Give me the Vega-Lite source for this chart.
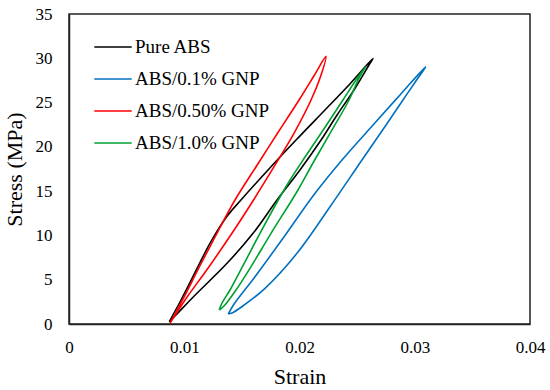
{
  "$schema": "https://vega.github.io/schema/vega-lite/v6.json",
  "width": 461,
  "height": 310,
  "autosize": "none",
  "padding": {"left": 69, "top": 14, "right": 20, "bottom": 66},
  "background": "white",
  "config": {
    "font": "Liberation Serif",
    "axis": {"labelFont": "Liberation Serif", "titleFont": "Liberation Serif"},
    "legend": {"labelFont": "Liberation Serif", "titleFont": "Liberation Serif"},
    "view": {"stroke": "#222222", "strokeWidth": 1.5}
  },
  "data": {
    "values": [
      {"s": "Pure ABS", "i": 1, "x": 0.0087, "y": 0.26},
      {"s": "Pure ABS", "i": 2, "x": 0.00972, "y": 2.71},
      {"s": "Pure ABS", "i": 3, "x": 0.01119, "y": 6.47},
      {"s": "Pure ABS", "i": 4, "x": 0.01223, "y": 9.11},
      {"s": "Pure ABS", "i": 5, "x": 0.01368, "y": 12.11},
      {"s": "Pure ABS", "i": 6, "x": 0.01492, "y": 14.0},
      {"s": "Pure ABS", "i": 7, "x": 0.01727, "y": 17.39},
      {"s": "Pure ABS", "i": 8, "x": 0.0197, "y": 20.77},
      {"s": "Pure ABS", "i": 9, "x": 0.02221, "y": 24.16},
      {"s": "Pure ABS", "i": 10, "x": 0.02429, "y": 26.98},
      {"s": "Pure ABS", "i": 11, "x": 0.02638, "y": 29.98},
      {"s": "Pure ABS", "i": 12, "x": 0.02603, "y": 29.24},
      {"s": "Pure ABS", "i": 13, "x": 0.02473, "y": 26.42},
      {"s": "Pure ABS", "i": 14, "x": 0.02326, "y": 23.6},
      {"s": "Pure ABS", "i": 15, "x": 0.02187, "y": 20.77},
      {"s": "Pure ABS", "i": 16, "x": 0.02004, "y": 17.39},
      {"s": "Pure ABS", "i": 17, "x": 0.01805, "y": 14.0},
      {"s": "Pure ABS", "i": 18, "x": 0.01597, "y": 10.24},
      {"s": "Pure ABS", "i": 19, "x": 0.01371, "y": 6.85},
      {"s": "Pure ABS", "i": 20, "x": 0.0108, "y": 3.08},
      {"s": "Pure ABS", "i": 21, "x": 0.00928, "y": 1.02},
      {"s": "Pure ABS", "i": 22, "x": 0.0087, "y": 0.26},

      {"s": "ABS/0.1% GNP", "i": 1, "x": 0.01382, "y": 1.13},
      {"s": "ABS/0.1% GNP", "i": 2, "x": 0.01427, "y": 2.15},
      {"s": "ABS/0.1% GNP", "i": 3, "x": 0.01614, "y": 5.34},
      {"s": "ABS/0.1% GNP", "i": 4, "x": 0.01846, "y": 9.48},
      {"s": "ABS/0.1% GNP", "i": 5, "x": 0.02135, "y": 14.76},
      {"s": "ABS/0.1% GNP", "i": 6, "x": 0.02369, "y": 18.52},
      {"s": "ABS/0.1% GNP", "i": 7, "x": 0.02638, "y": 22.47},
      {"s": "ABS/0.1% GNP", "i": 8, "x": 0.02872, "y": 25.86},
      {"s": "ABS/0.1% GNP", "i": 9, "x": 0.03095, "y": 29.05},
      {"s": "ABS/0.1% GNP", "i": 10, "x": 0.03028, "y": 27.77},
      {"s": "ABS/0.1% GNP", "i": 11, "x": 0.02898, "y": 25.29},
      {"s": "ABS/0.1% GNP", "i": 12, "x": 0.02751, "y": 22.47},
      {"s": "ABS/0.1% GNP", "i": 13, "x": 0.02542, "y": 18.52},
      {"s": "ABS/0.1% GNP", "i": 14, "x": 0.02265, "y": 13.24},
      {"s": "ABS/0.1% GNP", "i": 15, "x": 0.01978, "y": 7.98},
      {"s": "ABS/0.1% GNP", "i": 16, "x": 0.01701, "y": 4.03},
      {"s": "ABS/0.1% GNP", "i": 17, "x": 0.01499, "y": 1.95},
      {"s": "ABS/0.1% GNP", "i": 18, "x": 0.01414, "y": 1.24},
      {"s": "ABS/0.1% GNP", "i": 19, "x": 0.01382, "y": 1.13},

      {"s": "ABS/0.50% GNP", "i": 1, "x": 0.00876, "y": 0.08},
      {"s": "ABS/0.50% GNP", "i": 2, "x": 0.00985, "y": 2.71},
      {"s": "ABS/0.50% GNP", "i": 3, "x": 0.01132, "y": 6.47},
      {"s": "ABS/0.50% GNP", "i": 4, "x": 0.01284, "y": 10.24},
      {"s": "ABS/0.50% GNP", "i": 5, "x": 0.0144, "y": 14.0},
      {"s": "ABS/0.50% GNP", "i": 6, "x": 0.01623, "y": 17.76},
      {"s": "ABS/0.50% GNP", "i": 7, "x": 0.01809, "y": 21.53},
      {"s": "ABS/0.50% GNP", "i": 8, "x": 0.01996, "y": 25.29},
      {"s": "ABS/0.50% GNP", "i": 9, "x": 0.0213, "y": 28.11},
      {"s": "ABS/0.50% GNP", "i": 10, "x": 0.0223, "y": 30.22},
      {"s": "ABS/0.50% GNP", "i": 11, "x": 0.02187, "y": 28.11},
      {"s": "ABS/0.50% GNP", "i": 12, "x": 0.021, "y": 25.29},
      {"s": "ABS/0.50% GNP", "i": 13, "x": 0.01952, "y": 21.53},
      {"s": "ABS/0.50% GNP", "i": 14, "x": 0.01779, "y": 17.76},
      {"s": "ABS/0.50% GNP", "i": 15, "x": 0.01601, "y": 14.0},
      {"s": "ABS/0.50% GNP", "i": 16, "x": 0.01414, "y": 10.24},
      {"s": "ABS/0.50% GNP", "i": 17, "x": 0.01215, "y": 6.47},
      {"s": "ABS/0.50% GNP", "i": 18, "x": 0.01007, "y": 2.71},
      {"s": "ABS/0.50% GNP", "i": 19, "x": 0.00876, "y": 0.08},

      {"s": "ABS/1.0% GNP", "i": 1, "x": 0.01304, "y": 1.58},
      {"s": "ABS/1.0% GNP", "i": 2, "x": 0.01328, "y": 2.37},
      {"s": "ABS/1.0% GNP", "i": 3, "x": 0.01397, "y": 3.84},
      {"s": "ABS/1.0% GNP", "i": 4, "x": 0.01505, "y": 6.47},
      {"s": "ABS/1.0% GNP", "i": 5, "x": 0.01657, "y": 10.24},
      {"s": "ABS/1.0% GNP", "i": 6, "x": 0.01816, "y": 14.0},
      {"s": "ABS/1.0% GNP", "i": 7, "x": 0.01918, "y": 16.26},
      {"s": "ABS/1.0% GNP", "i": 8, "x": 0.02048, "y": 18.85},
      {"s": "ABS/1.0% GNP", "i": 9, "x": 0.02187, "y": 21.53},
      {"s": "ABS/1.0% GNP", "i": 10, "x": 0.02377, "y": 25.29},
      {"s": "ABS/1.0% GNP", "i": 11, "x": 0.0249, "y": 27.55},
      {"s": "ABS/1.0% GNP", "i": 12, "x": 0.02574, "y": 29.05},
      {"s": "ABS/1.0% GNP", "i": 13, "x": 0.02516, "y": 27.77},
      {"s": "ABS/1.0% GNP", "i": 14, "x": 0.0243, "y": 25.29},
      {"s": "ABS/1.0% GNP", "i": 15, "x": 0.02265, "y": 21.53},
      {"s": "ABS/1.0% GNP", "i": 16, "x": 0.02117, "y": 18.18},
      {"s": "ABS/1.0% GNP", "i": 17, "x": 0.01987, "y": 15.13},
      {"s": "ABS/1.0% GNP", "i": 18, "x": 0.01753, "y": 10.24},
      {"s": "ABS/1.0% GNP", "i": 19, "x": 0.01579, "y": 6.47},
      {"s": "ABS/1.0% GNP", "i": 20, "x": 0.01449, "y": 3.84},
      {"s": "ABS/1.0% GNP", "i": 21, "x": 0.01345, "y": 2.03},
      {"s": "ABS/1.0% GNP", "i": 22, "x": 0.01304, "y": 1.58}
    ]
  },
  "mark": {"type": "line", "strokeWidth": 1.6, "interpolate": "catmull-rom"},
  "encoding": {
    "x": {
      "field": "x",
      "type": "quantitative",
      "scale": {"domain": [0, 0.04], "nice": false, "zero": false},
      "axis": {
        "title": "Strain",
        "values": [0, 0.01, 0.02, 0.03, 0.04],
        "format": ".2~f",
        "grid": false,
        "ticks": false,
        "tickSize": 0,
        "labelPadding": 15,
        "labelFont": "Liberation Serif",
        "labelFontSize": 17,
        "labelColor": "black",
        "labelFlush": false,
        "domainColor": "#222222",
        "domainWidth": 1.5,
        "titleFont": "Liberation Serif",
        "titleFontSize": 22,
        "titleFontWeight": "normal",
        "titleColor": "black",
        "titleBaseline": "alphabetic",
        "titleY": 59
      }
    },
    "y": {
      "field": "y",
      "type": "quantitative",
      "scale": {"domain": [0, 35], "nice": false},
      "axis": {
        "title": "Stress (MPa)",
        "values": [0, 5, 10, 15, 20, 25, 30, 35],
        "grid": false,
        "ticks": false,
        "tickSize": 0,
        "labelPadding": 17,
        "labelFont": "Liberation Serif",
        "labelFontSize": 17,
        "labelColor": "black",
        "labelFlush": false,
        "domainColor": "#222222",
        "domainWidth": 1.5,
        "titleFont": "Liberation Serif",
        "titleFontSize": 22,
        "titleFontWeight": "normal",
        "titleColor": "black",
        "titleBaseline": "alphabetic",
        "titleAlign": "center",
        "titleAngle": -90,
        "titleX": -48,
        "titleY": 155
      }
    },
    "color": {
      "field": "s",
      "type": "nominal",
      "scale": {
        "domain": ["Pure ABS", "ABS/0.1% GNP", "ABS/0.50% GNP", "ABS/1.0% GNP"],
        "range": ["#000000", "#0070C0", "#FF0000", "#00A030"]
      },
      "legend": {
        "orient": "none",
        "legendX": 24,
        "legendY": 13,
        "title": null,
        "symbolType": "stroke",
        "symbolSize": 1400,
        "symbolStrokeWidth": 1.6,
        "labelFont": "Liberation Serif",
        "labelFontSize": 19,
        "labelColor": "black",
        "labelOffset": 2,
        "rowPadding": 2,
        "padding": 0
      }
    },
    "order": {"field": "i", "type": "quantitative"}
  }
}
